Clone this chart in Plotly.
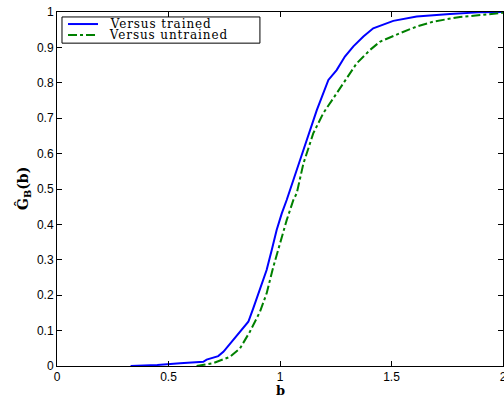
import plotly.graph_objects as go

b_trained = [0.33, 0.45, 0.552, 0.656, 0.671, 0.723, 0.746, 0.79, 0.835, 0.858, 0.88, 0.91,
             0.94, 0.963, 0.985, 1.008, 1.03, 1.09, 1.12, 1.165, 1.217, 1.254, 1.291, 1.329,
             1.374, 1.418, 1.508, 1.613, 1.762, 1.889, 2.0]
g_trained = [0.0, 0.003, 0.008, 0.012, 0.018, 0.028, 0.04, 0.073, 0.106, 0.125, 0.163, 0.22,
             0.271, 0.328, 0.384, 0.431, 0.469, 0.582, 0.638, 0.723, 0.808, 0.836, 0.874, 0.903,
             0.931, 0.954, 0.975, 0.987, 0.994, 0.999, 1.0]

b_untrained = [0.626, 0.70, 0.776, 0.821, 0.865, 0.91, 0.94, 0.97, 1.0, 1.03, 1.06, 1.075,
               1.105, 1.149, 1.194, 1.254, 1.284, 1.344, 1.404, 1.448, 1.538, 1.613, 1.688,
               1.807, 1.912, 2.0]
g_untrained = [0.0, 0.008, 0.026, 0.05, 0.097, 0.153, 0.205, 0.28, 0.346, 0.412, 0.469, 0.488,
               0.572, 0.657, 0.714, 0.77, 0.799, 0.855, 0.893, 0.916, 0.94, 0.959, 0.973,
               0.986, 0.992, 0.998]

series_names = ["Versus trained", "Versus untrained"]
series_colors = ["#0000ff", "#008000"]
series_dash = ["solid", "dashdot"]

x_ticks = [0, 0.5, 1, 1.5, 2]
y_ticks = [0, 0.1, 0.2, 0.3, 0.4, 0.5, 0.6, 0.7, 0.8, 0.9, 1]

SERIF = "DejaVu Serif, Liberation Serif, serif"

fig = go.Figure()
for bx, gy, nm, col, dsh in zip([b_trained, b_untrained], [g_trained, g_untrained],
                                series_names, series_colors, series_dash):
    fig.add_trace(go.Scatter(x=bx, y=gy, mode="lines", name=nm, showlegend=False,
                             line=dict(color=col, width=2, dash=dsh)))

axis_common = dict(showgrid=False, zeroline=False, showline=True, linecolor="black",
                   linewidth=1, mirror="ticks", ticks="inside", ticklen=5, tickcolor="black",
                   automargin=False, ticklabeloverflow="allow",
                   tickfont=dict(family="Liberation Sans, Arial", size=12, color="black"))

# Manual legend (box, sample lines, labels) in paper coordinates
shapes = [dict(type="rect", xref="paper", yref="paper", x0=0.0112, x1=0.455, y0=0.912, y1=0.986,
               line=dict(color="black", width=1), fillcolor="white", layer="above")]
annotations = []
leg_y = [0.966, 0.935]
for yy, nm, col, dsh in zip(leg_y, series_names, series_colors, series_dash):
    shapes.append(dict(type="line", xref="paper", yref="paper", x0=0.0247, x1=0.0919, y0=yy, y1=yy,
                       line=dict(color=col, width=2, dash=dsh), layer="above"))
    annotations.append(dict(text=nm, xref="paper", yref="paper", x=0.128, y=yy, xanchor="left",
                            yanchor="middle", showarrow=False,
                            font=dict(family=SERIF, size=12, color="black")))

annotations += [
    dict(text="<b>b</b>", xref="paper", yref="paper", x=0.5, y=0, yshift=-24,
         xanchor="center", yanchor="middle", showarrow=False,
         font=dict(family=SERIF, size=13, color="black")),
    dict(text="<b>Ĝ<sub>B</sub>(b)</b>", xref="paper", yref="paper", x=0, y=0.5,
         xshift=-34, xanchor="center", yanchor="middle", textangle=-90, showarrow=False,
         font=dict(family=SERIF, size=14, color="black")),
]

fig.update_layout(
    width=504, height=401,
    margin=dict(l=57, r=1, t=12, b=35, autoexpand=False),
    paper_bgcolor="white", plot_bgcolor="white",
    xaxis=dict(range=[0, 2], tickvals=x_ticks, ticktext=[f"{v:g}" for v in x_ticks],
               **axis_common),
    yaxis=dict(range=[0, 1], tickvals=y_ticks, ticktext=[f"{v:g}" for v in y_ticks],
               **axis_common),
    showlegend=False,
    shapes=shapes,
    annotations=annotations,
)

post = ("document.body.style.margin='0';document.body.style.overflow='hidden';"
        "document.querySelectorAll('.annotation-text').forEach(function(e){"
        "if(e.textContent.indexOf('Versus')===0){e.style.letterSpacing='0.9px';}});")

fig.write_html("out.html", post_script=post, config={"displayModeBar": False})
